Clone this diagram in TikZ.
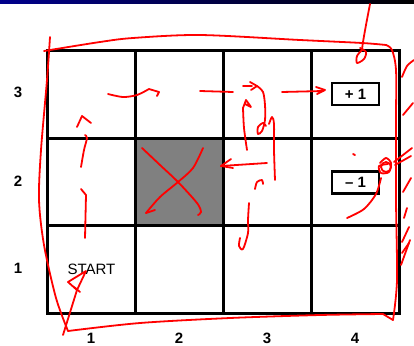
\documentclass[tikz,border=0pt]{standalone}
\usepackage{fontspec}
\setmainfont{Liberation Sans}
\begin{document}
\begin{tikzpicture}[x=1pt,y=-1pt,
  ink/.style={draw=red, line width=1.8pt, line cap=round, line join=round},
  cellbox/.style={draw=black, line width=3pt, minimum width=88pt, minimum height=87.33pt, inner sep=0pt, outer sep=0pt},
  axislbl/.style={font=\bfseries\fontsize{15}{15}\selectfont, inner sep=0pt},
  rewardbox/.style={draw=black, line width=2.5pt, minimum width=47pt, minimum height=22pt, inner sep=0pt, font=\bfseries\fontsize{15}{15}\selectfont}]
\useasboundingbox (0,0) rectangle (414,345);
\fill[white] (0,0) rectangle (414,345);
\shade[left color={rgb,255:red,0;green,0;blue,140}, right color=black] (0,0) rectangle (414,4);
% gray blocked cell
\fill[fill={rgb,255:red,128;green,128;blue,128}] (135,138) rectangle (223,226);
% grid cells
\foreach \i/\cx in {1/91,2/179,3/267,4/355}{
  \foreach \j/\cy in {3/94.5,2/182,1/269.5}{
    \node[cellbox] (c\i\j) at (\cx,\cy) {};
  }
}
% axis labels
\node[axislbl] (r3) at (18,92) {3};
\node[axislbl] (r2) at (18,181) {2};
\node[axislbl] (r1) at (18,268) {1};
\node[axislbl] (k1) at (91,338) {1};
\node[axislbl] (k2) at (179,338) {2};
\node[axislbl] (k3) at (267,338) {3};
\node[axislbl] (k4) at (355,338) {4};
% rewards and start
\node[rewardbox] (plus) at (355.5,94) {+ 1};
\node[rewardbox] (minus) at (355.5,182.5) {– 1};
\node[font=\fontsize{15}{15}\selectfont, inner sep=0pt] (start) at (91.5,269) {START};
% ---- red annotations ----
% big enclosing loop
\draw[ink] plot[smooth] coordinates {(50,37) (47,80) (41,150) (39,200) (44,245) (56,298) (68,331)};
\draw[ink] plot[smooth] coordinates {(68,331) (140,323) (230,318) (320,315) (383,314)} -- (393,320);
\draw[ink] plot[smooth] coordinates {(393,320) (397,280) (396,200) (396,120) (396,70) (392,50) (386,45)};
\draw[ink] plot[smooth] coordinates {(386,45) (362,43) (300,40) (200,35) (133,38) (100,42) (44,51)};
% start arrow
\draw[ink] (63,335) -- (77,290);
\draw[ink] (77,290) -- (68,282) -- (86,271) -- cycle;
\draw[ink] (74,287) -- (80,292);
% left column up arrow
\draw[ink] (85,238) -- (86,195) -- (81,189);
\draw[ink] plot[smooth] coordinates {(81,167) (84,150) (87,138) (85,135)};
\draw[ink] (77,127) -- (82,116) -- (91,123);
% row 3 arrow 1 -> 2
\draw[ink] plot[smooth] coordinates {(108,94) (123,97) (137,95) (149,89)} -- (159,92) -- (157,96);
\draw[ink] (200,91) -- (233,92);
% cell (3,3) strokes
\draw[ink] (243,86) -- (252,86);
\draw[ink] (250,82) -- (257,86) -- (251,90);
\draw[ink] plot[smooth] coordinates {(257,86) (263,92) (265,105) (265,120) (262,131) (258,134) (258,127) (263,123) (266,126)};
\draw[ink] plot[smooth] coordinates {(269,124) (272,117) (274,124) (274,150) (275,180)};
\draw[ink] plot[smooth] coordinates {(247,150) (244,128) (243,108)};
\draw[ink] (243,108) -- (246,100) -- (251,107) -- (245,104);
\draw[ink] (282,92) -- (323,91);
\draw[ink] (316,87) -- (325,90) -- (317,94);
% left arrow into gray cell
\draw[ink] (267,163) -- (221,166);
\draw[ink] (231,159) -- (221,166) -- (233,168);
% small strokes in cell (3,2)
\draw[ink] plot[smooth] coordinates {(255,189) (257,182) (262,180) (263,184)};
\draw[ink] plot[smooth] coordinates {(249,203) (248,220) (248,233) (243,249) (239,246) (240,238)};
% X on blocked cell
\draw[ink] plot[smooth] coordinates {(142,148) (160,165) (178,182) (197,203) (201,212) (198,215)};
\draw[ink] plot[smooth] coordinates {(203,148) (193,168) (178,182) (160,197) (146,213)};
\draw[ink] (146,213) -- (155,210);
% -1 curve and blob
\draw[ink] plot[smooth] coordinates {(347,218) (364,209) (376,194) (381,178)};
\draw[ink] (386,167) circle[x radius=5pt, y radius=5pt];
\draw[ink] plot[smooth] coordinates {(380,163) (386,158) (391,163) (389,172) (381,173) (379,166) (388,164)};
\draw[ink] (353,154) -- (355,155);
\draw[ink] (412,148) -- (394,162);
\draw[ink] (411,156) -- (395,165);
% top right loop
\draw[ink] plot[smooth] coordinates {(370,4) (366,25) (363,42) (362,50)};
\draw[ink] plot[smooth] coordinates {(362,50) (357,56) (357,63) (364,59) (366,52) (360,48)};
% hatch strokes right of grid
\draw[ink] plot[smooth] coordinates {(402,77) (407,66) (414,60)};
\draw[ink] (403,115) -- (413,103);
\draw[ink] (403,192) -- (411,178);
\draw[ink] (404,218) -- (407,208);
\draw[ink] (402,242) -- (409,227);
\draw[ink] (402,253) -- (409,243);
\draw[ink] (401,265) -- (410,240);
\end{tikzpicture}
\end{document}
